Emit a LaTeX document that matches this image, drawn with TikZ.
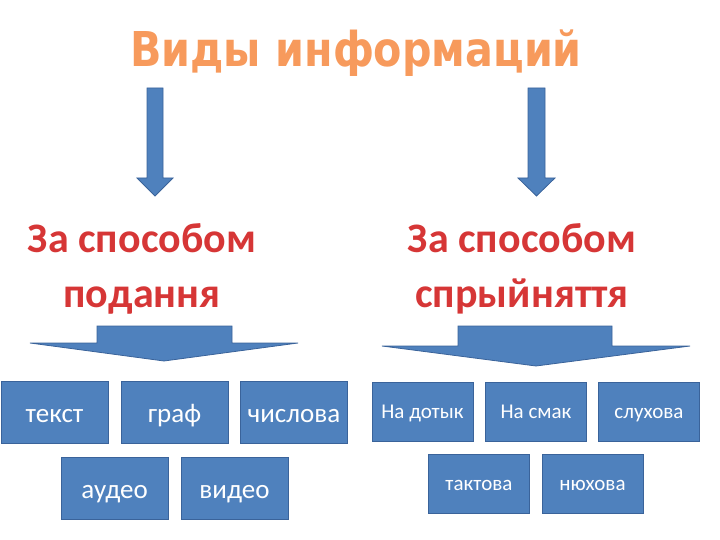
\documentclass[tikz,border=0pt]{standalone}
\usepackage{fontspec}
\setmainfont{Carlito}
\newfontfamily\titlefont[FakeStretch=0.86]{DejaVu Sans}
\definecolor{boxblue}{HTML}{4F81BD}
\definecolor{boxedge}{HTML}{3A639A}
\definecolor{titleorange}{HTML}{F79A5C}
\definecolor{subred}{HTML}{D63636}
\tikzset{
  blk/.style={fill=boxblue, draw=boxedge, line width=0.8bp},
  bigbox/.style={blk, rectangle, inner sep=0pt, minimum width=107bp, minimum height=62bp,
    text=white, text height=22bp, text depth=1bp, font=\fontsize{27bp}{30bp}\selectfont},
  smallbox/.style={blk, rectangle, inner sep=0pt, minimum width=101bp, minimum height=59bp,
    text=white, text height=16bp, text depth=2bp, font=\fontsize{21bp}{24bp}\selectfont},
  subtitle/.style={text=subred, anchor=base, font=\fontsize{42bp}{54bp}\selectfont\bfseries},
}
\begin{document}
\begin{tikzpicture}[x=1bp,y=-1bp]
\useasboundingbox (0,0) rectangle (720,540);
% title
\node[text=titleorange, font=\titlefont\fontsize{48bp}{52bp}\selectfont\bfseries, anchor=base] (title) at (356,67) {Виды информаций};
% down arrows
\draw[blk] (147,88) -- (163,88) -- (163,178) -- (173,178) -- (155,196) -- (137,178) -- (147,178) -- cycle;
\draw[blk] (528,88) -- (545,88) -- (545,178) -- (555,178) -- (536.5,196) -- (518,178) -- (528,178) -- cycle;
% subtitles
\node[subtitle] (s1a) at (142,253) {За способом};
\node[subtitle] (s1b) at (142,307) {подання};
\node[subtitle] (s2a) at (522,253) {За способом};
\node[subtitle] (s2b) at (522,307) {спрыйняття};
% wide arrows
\draw[blk] (97,326) -- (232,326) -- (232,343) -- (298,343) -- (164,361) -- (30,343) -- (97,343) -- cycle;
\draw[blk] (458,326) -- (612,326) -- (612,346) -- (690,346) -- (536,366) -- (382,346) -- (458,346) -- cycle;
% left boxes
\node[bigbox] (b1) at (54.5,412) {текст};
\node[bigbox] (b2) at (174.5,412) {граф};
\node[bigbox] (b3) at (294,412) {числова};
\node[bigbox] (b4) at (114.5,488) {аудео};
\node[bigbox] (b5) at (234.5,488) {видео};
% right boxes
\node[smallbox] (c1) at (422.5,411.5) {На дотык};
\node[smallbox] (c2) at (536,411.5) {На смак};
\node[smallbox] (c3) at (649,411.5) {слухова};
\node[smallbox] (c4) at (479,483.5) {тактова};
\node[smallbox] (c5) at (592.5,483.5) {нюхова};
\end{tikzpicture}
\end{document}
